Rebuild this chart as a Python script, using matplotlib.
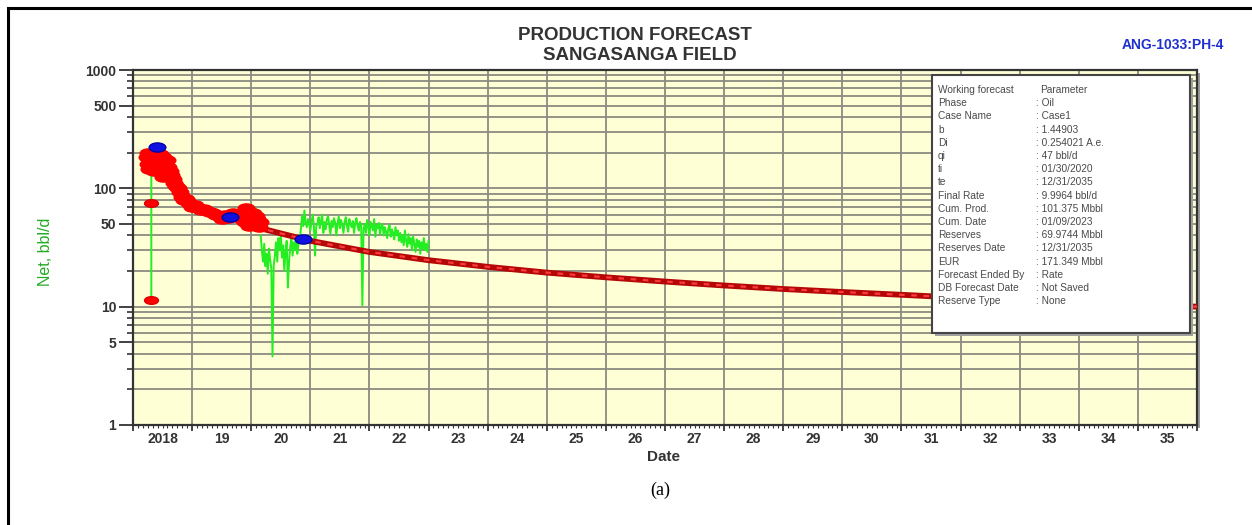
import numpy as np
import matplotlib.pyplot as plt
from matplotlib.path import Path
from matplotlib.patches import Rectangle
from matplotlib.ticker import FixedLocator, NullFormatter
import matplotlib.transforms as mtransforms

plt.rcParams['font.family'] = ['Liberation Sans', 'DejaVu Sans']

W, H = 1252, 525

# ---- data (decimal years, bbl/d) ----
# monthly/daily rate points shown as red markers
hist_years = [2018.24, 2018.25, 2018.26, 2018.27, 2018.28, 2018.30, 2018.31, 2018.33,
              2018.35, 2018.36, 2018.38, 2018.40, 2018.42, 2018.44, 2018.45, 2018.47,
              2018.48, 2018.50, 2018.51, 2018.52, 2018.54, 2018.57, 2018.60, 2018.62,
              2018.65, 2018.68, 2018.70, 2018.73, 2018.76, 2018.80, 2018.83, 2018.86,
              2018.90, 2018.93, 2018.96, 2019.00, 2019.05, 2019.10, 2019.15, 2019.20,
              2019.25, 2019.30, 2019.35, 2019.40, 2019.45, 2019.50, 2019.55, 2019.60,
              2019.65, 2019.70, 2019.75, 2019.80, 2019.85, 2019.90, 2019.92, 2019.95,
              2019.97, 2020.00, 2020.03, 2020.05, 2020.08, 2020.10, 2020.13, 2020.15]
hist_rates = [185, 160, 200, 145, 175, 190, 150, 170,
              195, 140, 165, 185, 155, 175, 195, 145,
              170, 185, 125, 160, 150, 175, 150, 140,
              130, 120, 112, 105, 100, 93, 85, 80,
              82, 76, 74, 70, 72, 68, 66, 67,
              64, 63, 62, 60, 58, 55, 60, 56,
              58, 62, 60, 58, 55, 52, 68, 57,
              48, 54, 62, 50, 58, 55, 47, 52]
outlier_years = [2018.31, 2018.31]
outlier_rates = [75, 11.4]

# forecast points (blue)
fit_years = [2018.40, 2019.64, 2020.88]
fit_rates = [224, 57, 37]

# measured rate line (green): early part, then a weekly-spaced segment
green_years_early = [2018.31, 2018.31, 2018.40, 2018.50, 2018.60, 2018.70, 2018.80,
                     2018.90, 2019.00, 2019.20, 2019.40, 2019.60, 2019.80, 2020.00,
                     2020.08, 2020.12]
green_rates_early = [11.4, 190, 200, 165, 145, 112, 92,
                     80, 72, 66, 60, 57, 57, 53,
                     68, 52]
green_start, green_step = 2020.16, 0.02
green_rates = [
    40, 30, 24, 34, 22, 28, 19, 31, 25, 21,
    3.8, 22, 27, 35, 24, 38, 30, 42, 26, 33,
    20, 29, 36, 14.5, 24, 32, 38, 27, 35, 30,
    40, 28, 34, 37, 45, 58, 48, 65, 52, 47,
    55, 50, 44, 52, 60, 48, 27, 48, 50, 57,
    46, 53, 60, 42, 52, 45, 55, 58, 49, 41,
    53, 47, 56, 51, 40, 50, 58, 46, 54, 49,
    42, 52, 57, 48, 43, 55, 50, 47, 53, 42,
    51, 56, 48, 44, 52, 49, 10.3, 45, 50, 42,
    54, 47, 40, 52, 48, 44, 55, 39, 49, 46,
    51, 41, 48, 50, 40, 47, 43, 38, 46, 49,
    39, 45, 42, 37, 47, 40, 44, 36, 42, 35,
    40, 33, 44, 36, 32, 41, 34, 38, 30, 39,
    34, 29, 37, 32, 36, 28, 35, 31, 38, 30,
    34, 29, 36,
]

# hyperbolic forecast, read at yearly points
fc_years = [2020.08, 2021, 2022, 2023, 2024, 2025, 2026, 2027, 2028, 2029,
            2030, 2031, 2032, 2033, 2034, 2035, 2036]
fc_rates = [47, 36, 29, 24.7, 21.7, 19.4, 17.7, 16.3, 15.1, 14.1,
            13.3, 12.6, 11.9, 11.4, 10.9, 10.4, 10.0]

year_labels = ['2018'] + [str(y) for y in range(19, 36)]

param_names = ['Working forecast', 'Phase', 'Case Name', 'b', 'Di', 'qi', 'ti', 'te',
               'Final Rate', 'Cum. Prod.', 'Cum. Date', 'Reserves', 'Reserves Date',
               'EUR', 'Forecast Ended By', 'DB Forecast Date', 'Reserve Type']
param_values = ['Parameter', ': Oil', ': Case1', ': 1.44903', ': 0.254021 A.e.',
                ': 47 bbl/d', ': 01/30/2020', ': 12/31/2035', ': 9.9964 bbl/d',
                ': 101.375 Mbbl', ': 01/09/2023', ': 69.9744 Mbbl', ': 12/31/2035',
                ': 171.349 Mbbl', ': Rate', ': Not Saved', ': None']


def fx(x):
    return x / W


def fy(y):
    return 1 - y / H


# flattened ellipse marker
ellipse = Path.unit_circle().transformed(mtransforms.Affine2D().scale(1.0, 0.55))

fig = plt.figure(figsize=(W / 100, H / 100), dpi=100)
ax = fig.add_axes([fx(133), fy(425), fx(1197 - 133), (425 - 70) / H])
ax.set_facecolor('#ffffd6')

ax.set_yscale('log')
ax.set_ylim(1, 1000)
ax.set_xlim(2018, 2036)

# grid
ax.yaxis.set_major_locator(FixedLocator([1, 5, 10, 50, 100, 500, 1000]))
ax.yaxis.set_minor_locator(FixedLocator(
    [m * d for d in (1, 10, 100) for m in (2, 3, 4, 6, 7, 8, 9)]))
ax.yaxis.set_minor_formatter(NullFormatter())
ax.set_yticklabels(['1', '5', '10', '50', '100', '500', '1000'])
ax.xaxis.set_major_locator(FixedLocator(list(range(2018, 2037))))
ax.xaxis.set_minor_locator(FixedLocator([2018 + k / 12 for k in range(18 * 12 + 1)]))
ax.set_xticklabels([])
ax.grid(which='both', axis='y', color='#8a8a80', lw=1.3)
ax.grid(which='major', axis='x', color='#8a8a80', lw=1.3)
ax.set_axisbelow(True)

ax.tick_params(axis='y', which='major', length=10, width=1.3, color='#333333',
               labelsize=10, pad=2, labelcolor='#333333')
ax.tick_params(axis='y', which='minor', length=4, width=1.2, color='#333333')
ax.tick_params(axis='x', which='major', length=4, width=1.3, color='#333333')
ax.tick_params(axis='x', which='minor', length=2.2, width=0.8, color='#333333')
for lab in ax.get_yticklabels():
    lab.set_fontweight('bold')

for s in ax.spines.values():
    s.set_color('#333333')
    s.set_linewidth(1.6)

# year labels centred in each year
xt = mtransforms.blended_transform_factory(ax.transData, ax.transAxes)
for i, lab in enumerate(year_labels):
    ax.text(2018.5 + i, -0.04, lab, transform=xt, ha='center', va='center',
            fontsize=10, fontweight='bold', color='#333333')

# series
ax.plot(green_years_early, green_rates_early, color='#22ee22', lw=1.4, zorder=2)
green_years = [green_start + green_step * i for i in range(len(green_rates))]
ax.plot(green_years, green_rates, color='#22ee22', lw=1.4, zorder=2)

ax.plot(fc_years, fc_rates, color='#b40808', lw=4.2, zorder=3, solid_capstyle='butt')
ax.plot(fc_years, fc_rates, color='#ff3a3a', lw=1.6, zorder=3, dashes=(2.5, 3))

ax.plot(hist_years, hist_rates, ls='none', marker=ellipse, ms=12,
        color='#ff0000', mec='#ff0000', zorder=4)
ax.plot(outlier_years, outlier_rates, ls='none', marker=ellipse, ms=10,
        color='#ff0000', mec='#dd0000', zorder=4)
ax.plot(fit_years, fit_rates, ls='none', marker=ellipse, ms=12,
        color='#1010e0', mec='#0000aa', zorder=5)

# axes shadow on right and bottom
fig.add_artist(Rectangle((fx(1197), fy(428)), fx(3), (428 - 73) / H,
                         transform=fig.transFigure, facecolor='#9a9a9a',
                         edgecolor='none', zorder=0))

# parameter box
fig.add_artist(Rectangle((fx(935), fy(336)), fx(1193 - 935), (336 - 78) / H,
                         transform=fig.transFigure, facecolor='#a0a0a0',
                         edgecolor='none', zorder=9))
fig.add_artist(Rectangle((fx(932), fy(333)), fx(1190 - 932), (333 - 75) / H,
                         transform=fig.transFigure, facecolor='white',
                         edgecolor='#444444', lw=1.5, zorder=10))
for i, (n, v) in enumerate(zip(param_names, param_values)):
    yy = 90 + i * 13.2
    fig.text(fx(938), fy(yy), n, fontsize=7.3, color='#4a4a4a', va='center',
             zorder=11)
    fig.text(fx(1036) if i else fx(1040), fy(yy), v, fontsize=7.3,
             color='#4a4a4a', va='center', zorder=11)

# titles and labels
fig.text(fx(635), fy(35), 'PRODUCTION FORECAST', ha='center', va='center',
         fontsize=13.5, fontweight='bold', color='#333333')
fig.text(fx(640), fy(56), 'SANGASANGA FIELD', ha='center', va='center',
         fontsize=13.5, fontweight='bold', color='#333333')
fig.text(fx(1173), fy(45), 'ANG-1033:PH-4', ha='center', va='center',
         fontsize=10, fontweight='bold', color='#1f2fd0')
fig.text(fx(45), fy(252), 'Net, bbl/d', ha='center', va='center', rotation=90,
         fontsize=11.5, color='#22aa22')
fig.text(fx(663), fy(457), 'Date', ha='center', va='center',
         fontsize=11, fontweight='bold', color='#333333')
fig.text(fx(660), fy(490), '(a)', ha='center', va='center',
         fontsize=13, family=['Liberation Serif', 'DejaVu Serif'], color='black')

# outer frame (runs off the right and bottom edges)
fig.add_artist(Rectangle((fx(8), fy(530)), fx(1258 - 8), (530 - 8) / H,
                         transform=fig.transFigure, facecolor='none',
                         edgecolor='black', lw=2.2, zorder=20))

fig.savefig('out.png', dpi=100)
